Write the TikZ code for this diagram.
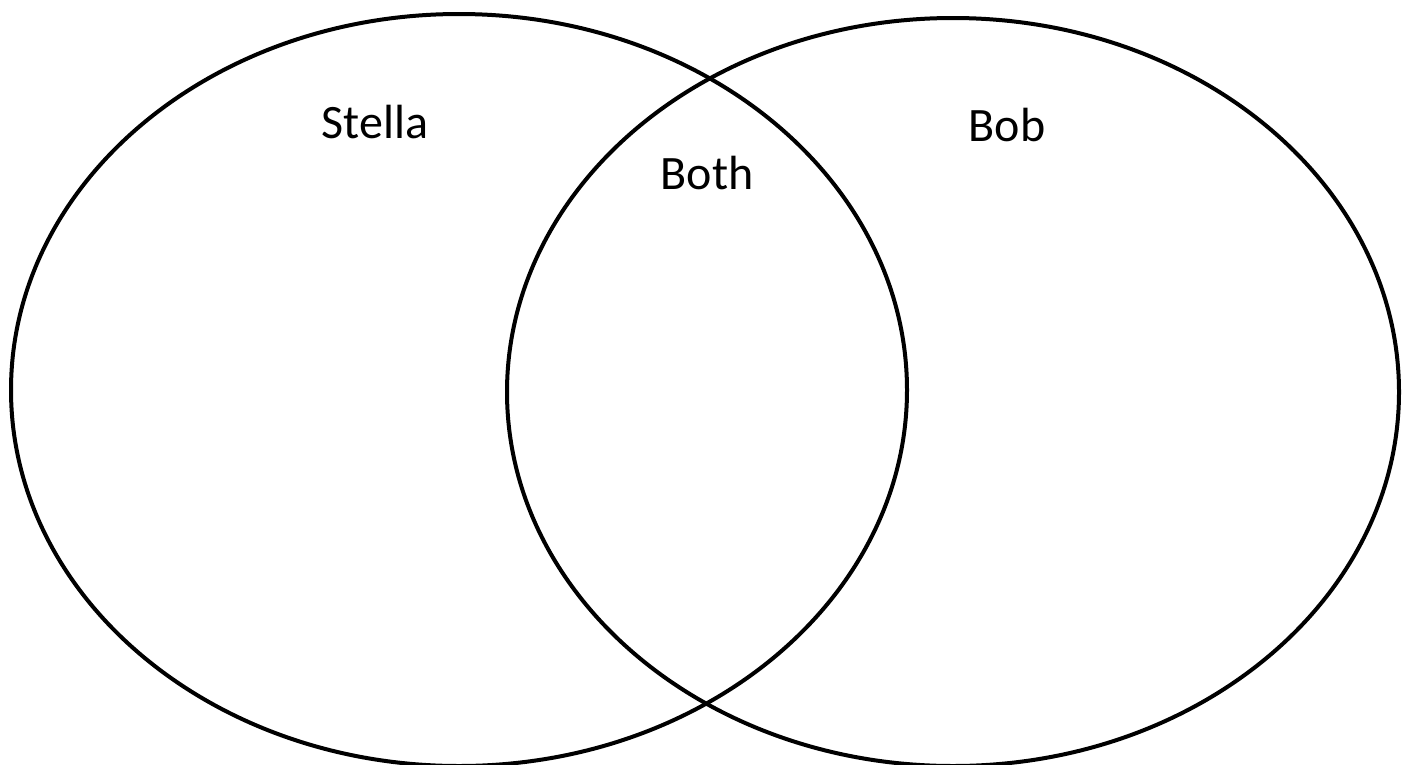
\documentclass[tikz,border=0pt]{standalone}
\usepackage{fontspec}
\setmainfont{Carlito}
\usepackage{tikz}

\begin{document}
\begin{tikzpicture}[x=1pt,y=-1pt,
set/.style={draw,line width=4pt},
lbl/.style={anchor=base,inner sep=0pt,font=\fontsize{48}{58}\selectfont}]
\useasboundingbox[fill=white] (0,0) rectangle (1413,764);
\draw[set] (459,390) ellipse [x radius=448,y radius=376];
\draw[set] (953,392) ellipse [x radius=446,y radius=374];
\node[lbl] (stella) at (375,138) {Stella};
\node[lbl] (bob) at (1007,141) {Bob};
\node[lbl] (both) at (707,189) {Both};
\end{tikzpicture}
\end{document}
